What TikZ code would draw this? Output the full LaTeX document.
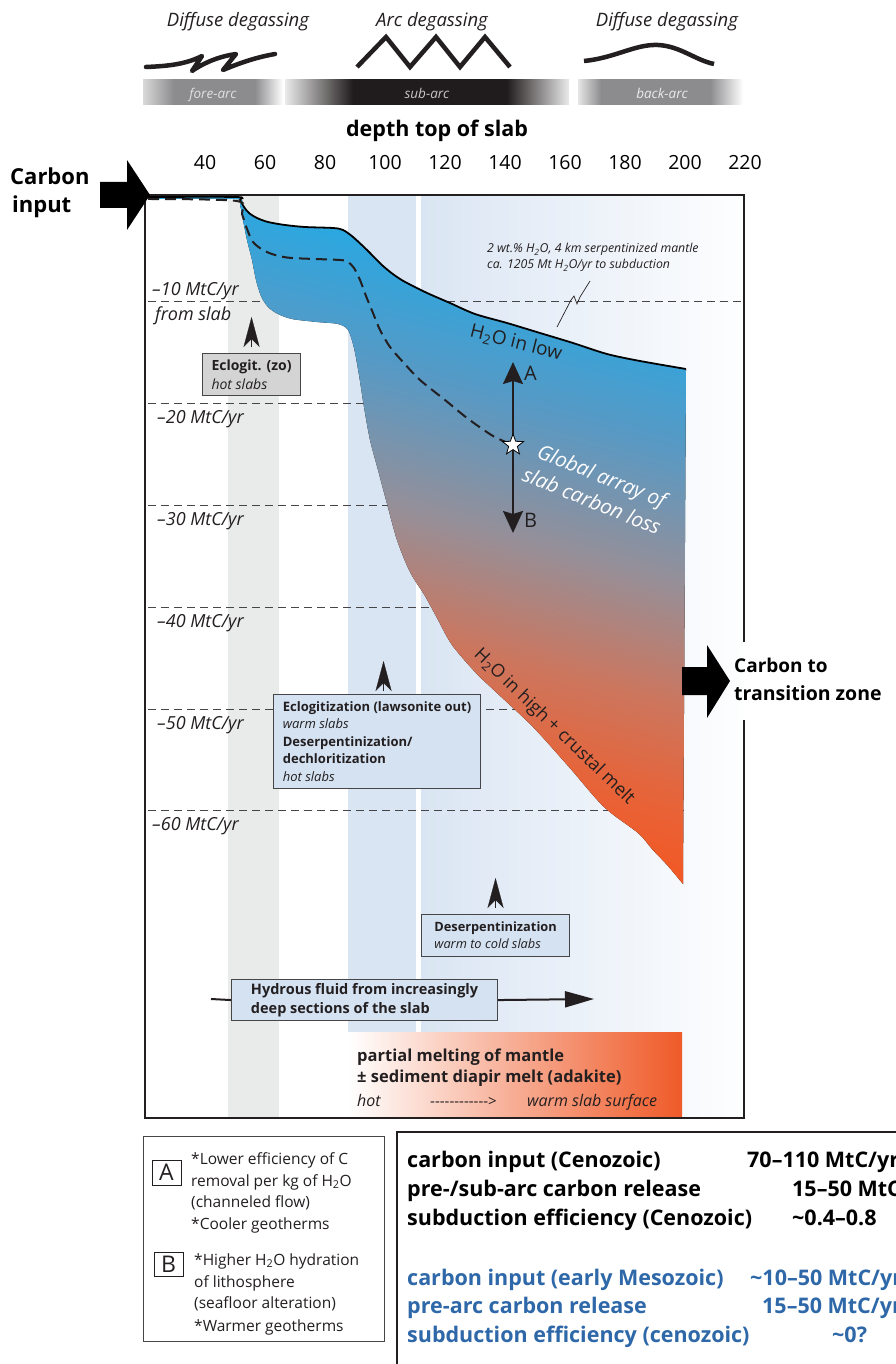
\documentclass[tikz,border=0pt]{standalone}
\usepackage{fontspec}
\setmainfont{Open Sans}
\usetikzlibrary{arrows.meta,shapes.geometric}

\definecolor{slabblue}{RGB}{40,168,226}
\definecolor{slabsky}{RGB}{88,153,196}
\definecolor{slabgray}{RGB}{150,143,152}
\definecolor{slabbrown}{RGB}{204,118,94}
\definecolor{slabrust}{RGB}{230,100,58}
\definecolor{slaborange}{RGB}{242,88,36}
\definecolor{bandgray}{RGB}{233,235,234}
\definecolor{bandblue}{RGB}{218,229,243}
\definecolor{boxblue}{RGB}{213,226,242}
\definecolor{boxgray}{RGB}{212,212,212}
\definecolor{meltorange}{RGB}{239,90,40}
\definecolor{zonegray}{RGB}{140,140,143}
\definecolor{zonedark}{RGB}{32,27,28}
\definecolor{mesoblue}{RGB}{46,104,168}
\definecolor{edgegray}{RGB}{70,70,72}
\definecolor{textdark}{RGB}{35,31,32}

% fading bars of the arc zones (bbox = 25bp..75bp)
\pgfdeclarehorizontalshading{forearcfade}{100bp}{color(0bp)=(black!15); color(25bp)=(black!15); color(36bp)=(zonegray); color(65bp)=(zonegray); color(75bp)=(white); color(100bp)=(white)}
\pgfdeclarehorizontalshading{subarcfade}{100bp}{color(0bp)=(black!8); color(25bp)=(black!8); color(37bp)=(zonedark); color(64bp)=(zonedark); color(75bp)=(black!8); color(100bp)=(black!8)}
\pgfdeclarehorizontalshading{backarcfade}{100bp}{color(0bp)=(black!10); color(25bp)=(black!10); color(32bp)=(zonegray); color(65bp)=(zonegray); color(75bp)=(white); color(100bp)=(white)}
% slab colour ramp, orange at the bottom to blue at the top
\pgfdeclareverticalshading{slabfade}{100bp}{color(0bp)=(slaborange); color(30bp)=(slaborange); color(36bp)=(slabrust); color(43bp)=(slabbrown); color(52bp)=(slabgray); color(62bp)=(slabsky); color(72bp)=(slabblue); color(100bp)=(slabblue)}

\newcommand\fs[1]{\fontsize{#1}{#1}\selectfont}
\newcommand\HtwoO{H\textsubscript{2}O}

\begin{document}
\begin{tikzpicture}[x=1pt,y=-1pt,
  txt/.style={inner sep=0pt,text=textdark},
  hdr/.style={txt,anchor=base,font=\fs{18.5}\itshape},
  zonelbl/.style={inner sep=0pt,anchor=base,font=\fs{13.5}\itshape},
  mtc/.style={txt,anchor=base west,font=\fs{18}\itshape},
  gridline/.style={draw=edgegray,line width=0.9pt,dash pattern=on 8pt off 5pt},
  procbox/.style={draw=edgegray,line width=1.1pt,fill=boxblue,anchor=north west,
    align=left,inner sep=0pt,text=textdark},
  uphead/.style={-{Stealth[length=30pt,width=16pt,inset=8pt]},line width=0.2pt,textdark},
  legline/.style={inner sep=0pt,anchor=base west,font=\fs{15.5},text=textdark},
  sumline/.style={inner sep=0pt,anchor=base west,font=\fs{21.5}\bfseries},
  degasline/.style={line width=4.5pt,textdark}
]
\useasboundingbox[fill=white] (0,0) rectangle (895,1364);

%====================================================
% Degassing styles and arc zones
%====================================================
\node[hdr] (dgfore) at (238,27) {Diffuse degassing};
\node[hdr] (dgarc)  at (432,27) {Arc degassing};
\node[hdr] (dgback) at (667,27) {Diffuse degassing};

% diffuse (fore-arc) squiggle
\draw[degasline,line join=round,line cap=round]
  (146,67) .. controls (170,66) and (186,64) .. (202,56)
  -- (192,71) .. controls (205,62) and (221,56) .. (236,54)
  -- (223,70) .. controls (242,62) and (258,57) .. (275,54);
% arc zigzag
\draw[degasline,line join=miter] (357,67) -- (386,37) -- (410,67) -- (436,37)
  -- (460,67) -- (485,37) -- (510,67);
% back-arc wave
\draw[degasline] (584,61) .. controls (615,58) and (635,44) .. (658,45)
  .. controls (680,46) and (695,60) .. (714,64);

\shade[shading=forearcfade] (143,80) rectangle (283,105);
\shade[shading=subarcfade] (285,80) rectangle (569,105);
\shade[shading=backarcfade] (578,80) rectangle (743,105);
\node[zonelbl,text=black!12] (fore) at (213,99) {fore-arc};
\node[zonelbl,text=black!22] (sub)  at (427,99) {sub-arc};
\node[zonelbl,text=black!8]  (back) at (662,99) {back-arc};

%====================================================
% Depth axis
%====================================================
\node[txt,text=black,anchor=base,font=\fs{21.5}\bfseries] (axtitle) at (437,137) {depth top of slab};
\foreach \d in {40,60,...,220}
  \node[txt,text=black,anchor=base,font=\fs{19.5}] (tick\d) at ({145+3*(\d-20)},170) {\d};

%====================================================
% Background bands
%====================================================
\fill[bandgray] (228,195) rectangle (279,1117);
\fill[bandblue] (348,195) rectangle (416,1117);
\shade[left color=bandblue,right color=white!96!bandblue] (421,195) rectangle (743,1117);

% carbon loss grid
\foreach \k/\xe in {1/743,2/684,3/684,4/684,5/684,6/684}
  \draw[gridline] (148,{200+101.8*\k}) -- (\xe,{200+101.8*\k});

%====================================================
% Slab carbon loss array
%====================================================
\fill[shading=slabfade,shading angle=-15]
  plot[smooth,tension=0.5] coordinates {(148,197) (236,197) (240,200) (244,207)
    (249,213) (257,218) (268,222) (285,225) (305,227) (333,228) (343,230) (353,237)
    (367,250) (383,266) (400,279) (425,292) (450,303) (475,314) (507,323) (540,333)
    (573,343) (607,354) (640,361) (686,369)}
  -- plot[smooth,tension=0.5] coordinates {(683,884) (668,866) (652,849) (638,833)
    (604,807) (569,767) (533,727) (497,693) (476,673) (452,645) (437,618) (425,596)
    (410,572) (397,540) (386,500) (378,470) (370,440) (364,407) (359,375) (354,348)
    (348,330) (338,324) (317,322) (292,319) (278,314) (268,307) (261,296) (256,280)
    (252,260) (247,240) (243,220) (240,205) (236,199) (148,199)} -- cycle;

% upper edge
\draw[line width=1.8pt]
  plot[smooth,tension=0.5] coordinates {(148,197) (236,197) (240,200) (244,207)
    (249,213) (257,218) (268,222) (285,225) (305,227) (333,228) (343,230) (353,237)
    (367,250) (383,266) (400,279) (425,292) (450,303) (475,314) (507,323) (540,333)
    (573,343) (607,354) (640,361) (686,369)};

% mean trend
\draw[line width=2pt,textdark,dash pattern=on 11pt off 6pt]
  plot[smooth,tension=0.5] coordinates {(148,199) (237,201) (242,214) (247,229)
    (253,242) (263,250) (275,255) (292,258) (340,260) (348,262) (354,268) (360,280)
    (366,296) (373,313) (380,330) (390,347) (403,362) (420,380) (445,400) (467,418)
    (493,436) (513,445)};

% A / B range
\coordinate (mid) at (513,445);
\coordinate (Atip) at (513,362);
\coordinate (Btip) at (513,533);
\draw[line width=2pt,textdark,-{Stealth[length=22pt,width=20pt,inset=3pt]}] (mid) -- (Atip);
\draw[line width=2pt,textdark,-{Stealth[length=22pt,width=20pt,inset=3pt]}] (mid) -- (Btip);
\node[star,star points=5,star point ratio=2.4,draw=black,fill=white,line width=0.8pt,
  minimum size=22pt,inner sep=0pt] (star) at (mid) {};
\node[txt,anchor=base west,font=\fs{20}] (Alab) at (524,380) {A};
\node[txt,anchor=base west,font=\fs{20}] (Blab) at (524,527) {B};

% labels in the array
\node[txt,font=\fs{19},rotate=-14] (h2olow) at (516,343) {\HtwoO\ in low};
\node[inner sep=0pt,text=white,align=center,font=\fontsize{20.5}{27}\selectfont\itshape,
  rotate=-22] (global) at (597,488) {Global array of\\slab carbon loss};
\node[txt,font=\fs{18},rotate=-44] (h2ohigh) at (554,727) {\HtwoO\ in high + crustal melt};

% serpentinized mantle note
\node[txt,anchor=base west,font=\fs{12.3}\itshape] (serp1) at (487,253)
  {2 wt.\% \HtwoO, 4 km serpentinized mantle};
\node[txt,anchor=base west,font=\fs{12.3}\itshape] (serp2) at (487,269)
  {ca. 1205 Mt \HtwoO/yr to subduction};
\draw[line width=0.7pt,textdark] (557,327) -- (571,300) -- (574,296) -- (577,304)
  -- (580,297) -- (590,281);

% MtC/yr scale
\node[mtc] (m1) at (152,295) {–10 MtC/yr};
\node[mtc] (slabtxt) at (155,320) {from slab};
\foreach \k/\xl in {2/157,3/157,4/157,5/157,6/152}
  \node[mtc] (m\k) at (\xl,{220+101.8*\k}) {–\k0 MtC/yr};

%====================================================
% Dehydration reactions
%====================================================
\node[procbox,fill=boxgray,minimum width=98pt,minimum height=42pt,
  font=\fontsize{14}{19}\selectfont] (eclzo) at (202,353)
  {\textbf{Eclogit. (zo)}\\\textit{hot slabs}};
\draw[uphead] ([yshift=6pt]eclzo.north) -- ++(0,-30);

\node[procbox,minimum width=207pt,minimum height=94pt,
  font=\fontsize{13}{17.5}\selectfont] (eclwarm) at (273,694)
  {\textbf{Eclogitization (lawsonite out)}\\\textit{warm slabs}\\
   \textbf{Deserpentinization/}\\\textbf{dechloritization}\\\textit{hot slabs}};
\draw[uphead] ([xshift=6.5pt,yshift=3pt]eclwarm.north) -- ++(0,-30);

\node[procbox,minimum width=148pt,minimum height=42pt,
  font=\fontsize{12.8}{17}\selectfont] (deserp) at (421,914)
  {\textbf{Deserpentinization}\\\textit{warm to cold slabs}};
\draw[uphead] ([yshift=6pt]deserp.north) -- ++(0,-30);

% hydrous fluid
\node[procbox,minimum width=266pt,minimum height=41pt,
  font=\fontsize{14.5}{19}\selectfont\bfseries] (hydro) at (231,979)
  {Hydrous fluid from increasingly\\deep sections of the slab};
\coordinate (hyL) at (211,999);
\coordinate (hyR) at (594,999);
\draw[line width=2pt,textdark] (hyL) -- (hydro.west);
\draw[line width=2pt,textdark,-{Triangle[length=29pt,width=16pt]}] (hydro.east) -- (hyR);

% melting zone
\shade[left color=white,middle color=meltorange!55,right color=meltorange]
  (348,1032) rectangle (682,1117);
\node[txt,anchor=base west,font=\fs{16.5}\bfseries] (melt1) at (357,1061) {partial melting of mantle};
\node[txt,anchor=base west,font=\fs{16.5}\bfseries] (melt2) at (357,1082) {± sediment diapir melt (adakite)};
\node[txt,anchor=base west,font=\fs{16}\itshape] (hot) at (357,1106) {hot};
\node[txt,anchor=base west,font=\fs{15}] (dashes) at (430,1106) {-{}-{}-{}-{}-{}-{}-{}-{}-{}-{}-{}->};
\node[txt,anchor=base west,font=\fs{16}\itshape] (warm) at (527,1106) {warm slab surface};

%====================================================
% Frame and carbon fluxes
%====================================================
\draw[line width=2.4pt,textdark] (744,642) -- (744,195) -- (145,195) -- (145,1118)
  -- (744,1118) -- (744,720);

\fill (100,182) -- (127,182) -- (127,160) -- (150,195) -- (127,230) -- (127,208)
  -- (100,208) -- cycle;
\node[txt,text=black,anchor=base west,font=\fs{22}\bfseries] (cin1) at (10,185) {Carbon};
\node[txt,text=black,anchor=base west,font=\fs{22}\bfseries] (cin2) at (12,213) {input};

\fill (682,667) -- (707,667) -- (707,645) -- (730,681) -- (707,718) -- (707,695)
  -- (682,695) -- cycle;
\node[txt,text=black,anchor=base west,font=\fs{19}\bfseries] (cout1) at (734,672) {Carbon to};
\node[txt,text=black,anchor=base west,font=\fs{19.5}\bfseries] (cout2) at (734,700) {transition zone};

%====================================================
% Key A / B
%====================================================
\node[draw=edgegray,line width=1.2pt,minimum width=241pt,minimum height=205pt,
  anchor=north west] (legend) at (143,1136) {};
\node[draw=textdark,line width=1pt,minimum width=29pt,minimum height=25pt,inner sep=0pt,
  font=\fs{23},text=textdark] (keyA) at (166.5,1172.5) {A};
\node[draw=textdark,line width=1pt,minimum width=29pt,minimum height=24pt,inner sep=0pt,
  font=\fs{23},text=textdark] (keyB) at (168.5,1264) {B};
\node[legline] (leg1) at (191,1164) {*Lower efficiency of C};
\node[legline] (leg2) at (191,1186) {removal per kg of \HtwoO};
\node[legline] (leg3) at (191,1207) {(channeled flow)};
\node[legline] (leg4) at (191,1229) {*Cooler geotherms};
\node[legline] (leg5) at (194,1265) {*Higher \HtwoO\ hydration};
\node[legline] (leg6) at (194,1287) {of lithosphere};
\node[legline] (leg7) at (194,1308) {(seafloor alteration)};
\node[legline] (leg8) at (194,1331) {*Warmer geotherms};

%====================================================
% Carbon budget
%====================================================
\draw[line width=2pt,textdark] (900,1132) -- (397,1132) -- (397,1370);
\node[sumline] (sum1) at (407,1167) {carbon input (Cenozoic)};
\node[sumline] (sum2) at (407,1196) {pre-/sub-arc carbon release};
\node[sumline] (sum3) at (407,1225) {subduction efficiency (Cenozoic)};
\node[sumline] (val1) at (747,1167) {70–110 MtC/yr};
\node[sumline] (val2) at (792,1196) {15–50 MtC/yr};
\node[sumline] (val3) at (792,1225) {\textasciitilde0.4–0.8};
\node[sumline,text=mesoblue] (sum4) at (407,1285) {carbon input (early Mesozoic)};
\node[sumline,text=mesoblue] (sum5) at (407,1313) {pre-arc carbon release};
\node[sumline,text=mesoblue] (sum6) at (407,1342) {subduction efficiency (cenozoic)};
\node[sumline,text=mesoblue] (val4) at (750,1285) {\textasciitilde10–50 MtC/yr};
\node[sumline,text=mesoblue] (val5) at (762,1313) {15–50 MtC/yr};
\node[sumline,text=mesoblue] (val6) at (832,1342) {\textasciitilde0?};

\end{tikzpicture}
\end{document}
